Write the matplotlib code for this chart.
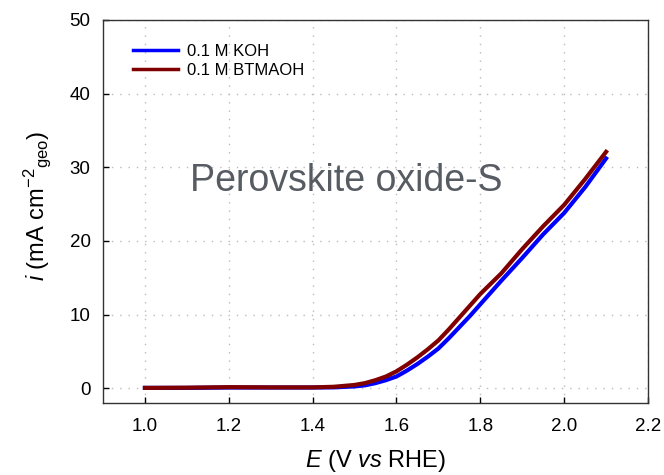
import matplotlib
matplotlib.use("Agg")
import matplotlib.pyplot as plt

plt.rcParams['font.family'] = ['Liberation Sans', 'DejaVu Sans']
plt.rcParams['mathtext.fontset'] = 'custom'
plt.rcParams['mathtext.rm'] = 'Liberation Sans'
plt.rcParams['mathtext.it'] = 'Liberation Sans:italic'

E = [1.0, 1.1, 1.2, 1.3, 1.4, 1.45, 1.5, 1.525, 1.55, 1.575, 1.6, 1.625, 1.65,
     1.675, 1.7, 1.725, 1.75, 1.775, 1.8, 1.85, 1.9, 1.95, 2.0, 2.05, 2.1]
i_koh = [0.05, 0.05, 0.1, 0.1, 0.1, 0.12, 0.25, 0.4, 0.7, 1.1, 1.6, 2.4, 3.3,
         4.3, 5.4, 6.8, 8.3, 9.8, 11.4, 14.6, 17.7, 20.9, 23.8, 27.3, 31.2]
i_btmaoh = [0.05, 0.08, 0.15, 0.12, 0.12, 0.2, 0.45, 0.7, 1.1, 1.6, 2.3, 3.2, 4.2,
            5.3, 6.5, 8.0, 9.6, 11.2, 12.8, 15.6, 18.9, 22.0, 24.9, 28.4, 32.1]
labels = ["0.1 M KOH", "0.1 M BTMAOH"]
xticks = [1.0, 1.2, 1.4, 1.6, 1.8, 2.0, 2.2]
yticks = [0, 10, 20, 30, 40, 50]

fig = plt.figure(figsize=(6.64, 4.75), dpi=100)
ax = fig.add_axes([103/664, 1-403/475, (648-103)/664, (403-20)/475])

ax.plot(E, i_koh, color='#0000ff', lw=3, label=labels[0])
ax.plot(E, i_btmaoh, color='#800000', lw=3, label=labels[1])

ax.set_xlim(0.9, 2.2)
ax.set_ylim(-2, 50)
ax.set_xticks(xticks)
ax.set_yticks(yticks)
ax.set_xticklabels([f"{v:.1f}" for v in xticks])
ax.tick_params(direction='in', length=4, width=1, labelsize=13.5, colors='black')
ax.tick_params(axis='x', pad=11)
ax.tick_params(axis='y', pad=9)
ax.grid(True, color='#bbbbbb', linestyle=(0, (1, 5)), linewidth=1)
for s in ax.spines.values():
    s.set_color('#333333')
    s.set_linewidth(1)

ax.set_xlabel(r'$\it{E}$ (V $\it{vs}$ RHE)', fontsize=17, labelpad=9)
ax.set_ylabel(r'$\it{i}$ (mA cm$^{-2}$$_{\mathrm{geo}}$)', fontsize=17)
ax.yaxis.set_label_coords(-0.092, 0.514)

ax.text(1.48, 28.1, 'Perovskite oxide-S', fontsize=27, color='#575c63',
        ha='center', va='center')

leg = ax.legend(loc='upper left', bbox_to_anchor=(0.042, 0.956), frameon=False,
                fontsize=12, handlelength=2.7, handletextpad=0.55,
                labelspacing=0.25, borderaxespad=0)
for l in leg.get_lines():
    l.set_linewidth(2.5)

fig.savefig('out.png', dpi=100)
